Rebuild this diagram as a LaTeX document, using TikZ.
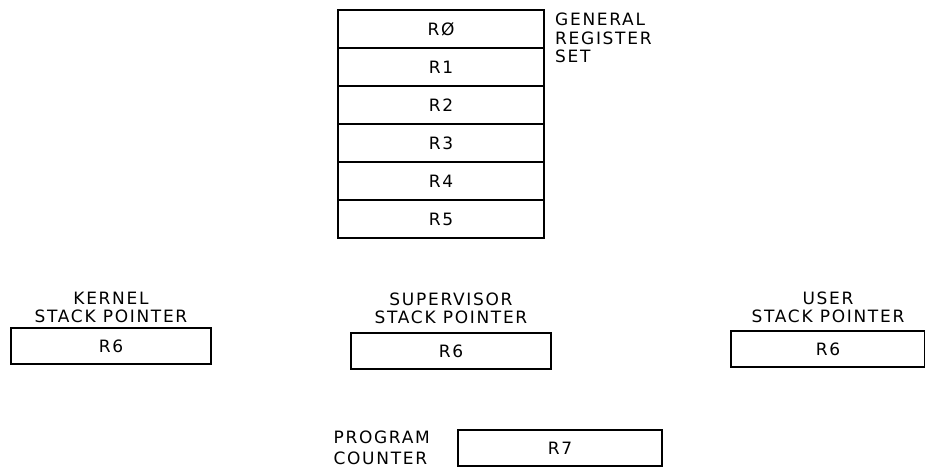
\documentclass[tikz,border=0pt]{standalone}
\usepackage{fontspec}
\setmainfont{DejaVu Sans}[LetterSpace=10]
\usetikzlibrary{positioning}
\newcommand{\regfont}{\fontsize{17}{18.5}\selectfont}

\begin{document}
\begin{tikzpicture}[
  x=1pt, y=-1pt,
  every node/.style={font=\regfont},
  reg/.style={draw, line width=2.8pt, outer sep=0pt, inner sep=0pt,
              minimum width=206pt, minimum height=38pt},
  rsix/.style={reg, minimum width=200pt, minimum height=36pt},
  caption/.style={align=center, inner sep=0pt}
]
  \useasboundingbox (0,0) rectangle (925,468);

  \node[reg] (r0) at (441,29) {RØ};
  \node[reg, below=0pt of r0] (r1) {R1};
  \node[reg, below=0pt of r1] (r2) {R2};
  \node[reg, below=0pt of r2] (r3) {R3};
  \node[reg, below=0pt of r3] (r4) {R4};
  \node[reg, below=0pt of r4] (r5) {R5};
  \node[caption, align=left, anchor=north west] (genset) at (555,13)
       {GENERAL\\REGISTER\\SET};

  \node[rsix] (kernel) at (111,346) {R6};
  \node[caption, above=5pt of kernel] (kernellbl) {KERNEL\\STACK POINTER};
  \node[rsix] (super) at (451,351) {R6};
  \node[caption, above=9pt of super] (superlbl) {SUPERVISOR\\STACK POINTER};
  \node[rsix, minimum width=194pt] (user) at (828,349) {R6};
  \node[caption, above=8pt of user] (userlbl) {USER\\STACK POINTER};

  \node[rsix, minimum width=204pt] (pc) at (560,448) {R7};
  \node[caption, align=left, left=28pt of pc] (pclbl) {PROGRAM\\[2pt]COUNTER};
\end{tikzpicture}
\end{document}
